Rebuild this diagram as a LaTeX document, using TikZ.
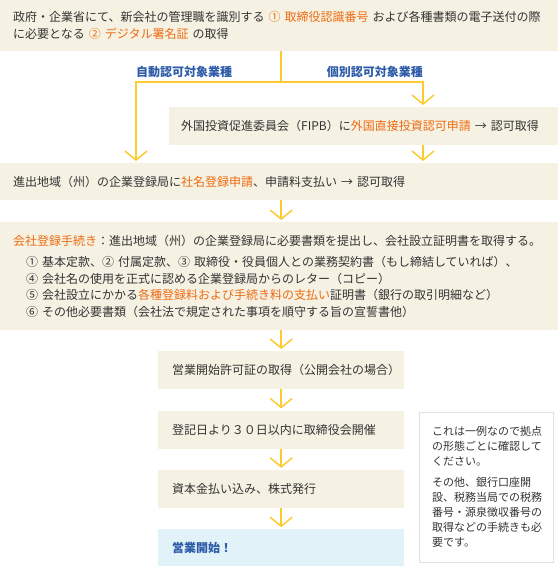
\documentclass[tikz,border=0pt]{standalone}
\usepackage{fontspec}
\setmainfont{Noto Sans CJK JP}
\usetikzlibrary{arrows.meta, positioning, shadows}
\definecolor{cream}{HTML}{F5F2E3}
\definecolor{skyfill}{HTML}{E1F2F9}
\definecolor{flowyellow}{HTML}{FBCB2F}
\definecolor{accent}{HTML}{EE6B12}
\definecolor{tagblue}{HTML}{2D5BA8}
\definecolor{ink}{HTML}{333333}
\newcommand{\hl}[1]{\textcolor{accent}{#1}}

\begin{document}
\begin{tikzpicture}[x=1pt, y=-1pt, font=\fontsize{12}{17}\selectfont, text=ink,
  panel/.style={fill=cream, anchor=north west, align=left, inner xsep=13pt, inner ysep=0pt},
  stepbox/.style={panel, text width=218pt, inner xsep=14pt, minimum height=38pt},
  flow/.style={draw=flowyellow, line width=1.5pt, -{Straight Barb[length=9pt, width=22pt]}, shorten >=2pt},
  pipe/.style={draw=flowyellow, line width=1.5pt},
  tag/.style={font=\fontsize{12}{14}\selectfont\bfseries, text=tagblue, inner sep=0pt}]
\useasboundingbox (0,0) rectangle (558,566);

% boxes
\node[panel, text width=532pt, minimum height=51pt] (gov) at (0,0) {政府・企業省にて、新会社の管理職を識別する \hl{① 取締役認識番号} および各種書類の電子送付の際\\に必要となる \hl{② デジタル署名証} の取得};
\node[panel, text width=365pt, inner xsep=12pt, minimum height=38pt] (fipb) at (169,107) {外国投資促進委員会（FIPB）に\hl{外国直接投資認可申請} → 認可取得};
\node[panel, text width=532pt, minimum height=37pt] (reg) at (0,163) {進出地域（州）の企業登録局に\hl{社名登録申請}、申請料支払い → 認可取得};
\node[panel, text width=532pt, minimum height=108pt, font=\fontsize{12}{16.5}\selectfont] (list) at (0,222) {\hl{会社登録手続き}：進出地域（州）の企業登録局に必要書類を提出し、会社設立証明書を取得する。\\[4.5pt]
\hspace*{13pt}① 基本定款、② 付属定款、③ 取締役・役員個人との業務契約書（もし締結していれば）、\\
\hspace*{13pt}④ 会社名の使用を正式に認める企業登録局からのレター（コピー）\\
\hspace*{13pt}⑤ 会社設立にかかる\hl{各種登録料および手続き料の支払い}証明書（銀行の取引明細など）\\
\hspace*{13pt}⑥ その他必要書類（会社法で規定された事項を順守する旨の宣誓書他）};
\node[stepbox] (step1) at (158,351) {営業開始許可証の取得（公開会社の場合）};
\node[stepbox, below=21pt of step1] (step2) {登記日より３０日以内に取締役会開催};
\node[stepbox, below=21pt of step2] (step3) {資本金払い込み、株式発行};
\node[stepbox, below=21pt of step3, fill=skyfill, font=\fontsize{12}{17}\selectfont\bfseries, text=tagblue] (step4) {営業開始！};
\node[fill=white, draw=black!12, drop shadow={opacity=0.12, shadow xshift=0pt, shadow yshift=-1pt}, anchor=north west, align=left, text width=108pt, inner xsep=13pt, inner ysep=0pt, minimum height=150pt, font=\fontsize{11}{15}\selectfont] (memo) at (419,412) {これは一例なので拠点\\の形態ごとに確認して\\ください。\\[6pt]その他、銀行口座開\\設、税務当局での税務\\番号・源泉徴収番号の\\取得などの手続きも必\\要です。};

% branching
\coordinate (split) at (281,82);
\coordinate (autoTurn) at (136,82);
\coordinate (indivTurn) at (423,82);
\node[tag, anchor=west] (autoTag) at ([yshift=10pt]autoTurn) {自動認可対象業種};
\node[tag, anchor=east] (indivTag) at ([yshift=10pt]indivTurn) {個別認可対象業種};
\draw[pipe] (gov.south -| split) -- (split);
\draw[flow] (split) -| (reg.north -| autoTurn);
\draw[flow] (split) -| (fipb.north -| indivTurn);
\draw[flow] (fipb.south -| indivTurn) -- (reg.north -| indivTurn);

% main column
\draw[flow] (reg.south -| step1) -- (list.north -| step1);
\draw[flow] (list.south -| step1) -- (step1.north);
\draw[flow] (step1) -- (step2);
\draw[flow] (step2) -- (step3);
\draw[flow] (step3) -- (step4);
\end{tikzpicture}
\end{document}
